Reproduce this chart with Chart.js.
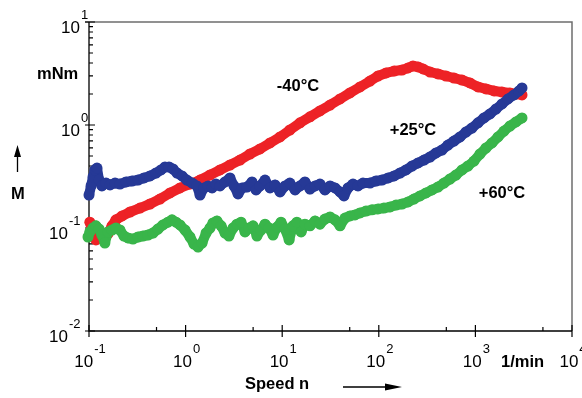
<!DOCTYPE html>
<html>
<head>
<meta charset="utf-8">
<script src="https://cdn.jsdelivr.net/npm/chart.js@4"></script>
<style>
  html, body { margin: 0; padding: 0; background: #fff; }
  canvas { display: block; }
</style>
</head>
<body>
<canvas id="torqueChart" width="582" height="398"></canvas>
<script>
// speed n in 1/min, torque M in mNm
const speedCold = [0.102, 0.110, 0.118, 0.130, 0.143, 0.157, 0.173, 0.190, 0.220, 0.266, 0.337, 0.428, 0.543, 0.690, 0.875, 1.11, 1.41, 1.79, 2.27, 2.88, 3.66, 4.64, 5.89, 7.48, 9.49, 12.0, 15.3, 19.4, 24.6, 31.3, 39.7, 50.3, 63.9, 81.1, 98.1, 119, 144, 174, 201, 226, 255, 287, 339, 410, 496, 600, 727, 879, 1064, 1287, 1558, 1886, 2282, 2632, 3037];
const torqueCold = [0.114, 0.0875, 0.0765, 0.0836, 0.0782, 0.0875, 0.105, 0.120, 0.131, 0.143, 0.156, 0.171, 0.191, 0.219, 0.245, 0.267, 0.292, 0.327, 0.366, 0.409, 0.457, 0.523, 0.585, 0.669, 0.765, 0.894, 1.05, 1.20, 1.37, 1.56, 1.79, 2.05, 2.34, 2.67, 2.99, 3.20, 3.34, 3.42, 3.58, 3.74, 3.66, 3.50, 3.27, 3.13, 2.99, 2.86, 2.73, 2.56, 2.34, 2.24, 2.14, 2.09, 2.05, 2.00, 1.96];

const speedRoom = [0.100, 0.105, 0.110, 0.115, 0.121, 0.127, 0.136, 0.150, 0.165, 0.186, 0.209, 0.242, 0.279, 0.322, 0.371, 0.428, 0.494, 0.556, 0.612, 0.673, 0.741, 0.815, 0.918, 1.03, 1.17, 1.31, 1.41, 1.55, 1.71, 1.88, 2.06, 2.27, 2.56, 2.88, 3.17, 3.49, 3.84, 4.32, 4.87, 5.36, 5.89, 6.64, 7.48, 8.42, 9.49, 10.7, 12.0, 13.6, 15.3, 17.2, 19.4, 21.9, 24.6, 27.7, 31.3, 35.2, 39.7, 43.6, 48.0, 54.1, 60.9, 68.6, 81.1, 93.5, 108, 125, 144, 166, 191, 221, 255, 294, 339, 391, 451, 520, 600, 693, 799, 922, 1064, 1227, 1416, 1634, 1886, 2175, 2509, 2828, 3037];
const torqueRoom = [0.209, 0.256, 0.313, 0.366, 0.382, 0.292, 0.256, 0.273, 0.262, 0.273, 0.267, 0.280, 0.286, 0.292, 0.306, 0.320, 0.342, 0.366, 0.391, 0.391, 0.374, 0.342, 0.320, 0.292, 0.273, 0.256, 0.209, 0.245, 0.256, 0.245, 0.267, 0.256, 0.280, 0.306, 0.256, 0.214, 0.245, 0.250, 0.280, 0.234, 0.256, 0.292, 0.245, 0.262, 0.224, 0.256, 0.273, 0.234, 0.256, 0.280, 0.239, 0.256, 0.267, 0.234, 0.256, 0.245, 0.224, 0.205, 0.245, 0.267, 0.256, 0.273, 0.273, 0.286, 0.292, 0.306, 0.320, 0.342, 0.366, 0.400, 0.428, 0.457, 0.489, 0.535, 0.572, 0.639, 0.699, 0.765, 0.855, 0.935, 1.05, 1.17, 1.28, 1.43, 1.60, 1.79, 1.96, 2.14, 2.29];

const speedHot = [0.0976, 0.102, 0.110, 0.118, 0.127, 0.136, 0.146, 0.157, 0.173, 0.190, 0.209, 0.230, 0.253, 0.285, 0.322, 0.362, 0.408, 0.460, 0.518, 0.583, 0.657, 0.723, 0.796, 0.875, 0.986, 1.11, 1.22, 1.345, 1.48, 1.63, 1.79, 1.92, 2.11, 2.33, 2.56, 2.81, 3.10, 3.40, 3.75, 4.12, 4.53, 4.99, 5.48, 6.03, 6.64, 7.30, 8.03, 8.84, 9.72, 10.7, 11.8, 12.9, 14.2, 15.7, 17.2, 19.4, 21.9, 24.6, 27.7, 31.3, 35.2, 39.7, 44.7, 50.3, 56.7, 63.9, 73.7, 85.0, 98.1, 113, 131, 151, 174, 201, 231, 267, 308, 355, 410, 473, 546, 630, 727, 838, 967, 1116, 1287, 1485, 1714, 1978, 2282, 2632, 3037];
const torqueHot = [0.0818, 0.0915, 0.100, 0.105, 0.0978, 0.0855, 0.0715, 0.0915, 0.0956, 0.100, 0.0956, 0.0836, 0.080, 0.0782, 0.0818, 0.0836, 0.0855, 0.0894, 0.0978, 0.107, 0.114, 0.120, 0.114, 0.107, 0.0956, 0.0818, 0.0699, 0.0654, 0.0715, 0.0894, 0.100, 0.112, 0.117, 0.105, 0.0894, 0.0836, 0.100, 0.109, 0.114, 0.0915, 0.100, 0.105, 0.0836, 0.0956, 0.109, 0.100, 0.0855, 0.102, 0.114, 0.0978, 0.0765, 0.105, 0.114, 0.0915, 0.109, 0.105, 0.117, 0.109, 0.122, 0.128, 0.120, 0.105, 0.125, 0.131, 0.134, 0.140, 0.146, 0.150, 0.153, 0.156, 0.160, 0.167, 0.171, 0.179, 0.191, 0.205, 0.219, 0.234, 0.250, 0.273, 0.299, 0.327, 0.366, 0.400, 0.447, 0.523, 0.598, 0.669, 0.765, 0.874, 0.978, 1.07, 1.17];

const seriesNames = ['-40°C', '+25°C', '+60°C'];
const speedDecades = [-1, 0, 1, 2, 3, 4];
const torqueDecades = [-2, -1, 0, 1];

const RED = 'rgb(237, 34, 38)';
const BLUE = 'rgb(38, 57, 150)';
const GREEN = 'rgb(57, 181, 74)';
const FONT = '"Liberation Sans", Arial, sans-serif';

function toPoints(xs, ys) {
  return xs.map((x, i) => ({ x: x, y: ys[i] }));
}

function series(label, xs, ys, color, order) {
  return {
    label: label,
    data: toPoints(xs, ys),
    showLine: true,
    borderColor: color,
    backgroundColor: color,
    borderWidth: 10,
    borderCapStyle: 'round',
    borderJoinStyle: 'round',
    pointRadius: 5.5,
    pointBorderWidth: 0,
    pointHoverRadius: 5.5,
    clip: false,
    order: order
  };
}

// 10 with a raised exponent
function powerLabel(ctx, exp, x, y, align) {
  const base = '10';
  const sup = String(exp);
  ctx.font = '17px ' + FONT;
  const wBase = ctx.measureText(base).width;
  ctx.font = '13px ' + FONT;
  const wSup = ctx.measureText(sup).width;
  let left = x;
  if (align === 'center') left = x - (wBase + wSup + 1) / 2;
  ctx.textAlign = 'left';
  ctx.textBaseline = 'alphabetic';
  ctx.font = '17px ' + FONT;
  ctx.fillText(base, left, y);
  ctx.font = '13px ' + FONT;
  ctx.fillText(sup, left + wBase + 1, y - 14);
}

const frame = {
  id: 'frame',
  beforeDatasetsDraw(chart) {
    const ctx = chart.ctx;
    const a = chart.chartArea;
    const xs = chart.scales.x;
    const ys = chart.scales.y;
    ctx.save();
    // grey box top and right
    ctx.strokeStyle = '#6d6d6d';
    ctx.lineWidth = 1.5;
    ctx.beginPath();
    ctx.moveTo(a.left - 4, a.top);
    ctx.lineTo(a.right, a.top);
    ctx.lineTo(a.right, a.bottom);
    ctx.stroke();

    ctx.strokeStyle = '#000';
    ctx.lineWidth = 1.3;
    ctx.beginPath();
    ctx.moveTo(a.left, a.top);
    ctx.lineTo(a.left, a.bottom);
    ctx.lineTo(a.right, a.bottom);
    ctx.stroke();

    ctx.lineWidth = 1.2;
    ctx.beginPath();
    torqueDecades.forEach(d => {
      const py = ys.getPixelForValue(Math.pow(10, d));
      ctx.moveTo(a.left - 4, py);
      ctx.lineTo(a.left + 6, py);
      if (d < torqueDecades[torqueDecades.length - 1]) {
        for (let k = 2; k <= 9; k++) {
          const my = ys.getPixelForValue(k * Math.pow(10, d));
          ctx.moveTo(a.left, my);
          ctx.lineTo(a.left + 4, my);
        }
      }
    });
    speedDecades.forEach(d => {
      const px = xs.getPixelForValue(Math.pow(10, d));
      ctx.moveTo(px, a.bottom - 6);
      ctx.lineTo(px, a.bottom + 6);
      if (d < speedDecades[speedDecades.length - 1]) {
        const mx = xs.getPixelForValue(5 * Math.pow(10, d));
        ctx.moveTo(mx, a.bottom - 4);
        ctx.lineTo(mx, a.bottom);
      }
    });
    ctx.stroke();
    ctx.restore();
  },
  afterDraw(chart) {
    const ctx = chart.ctx;
    const a = chart.chartArea;
    const xs = chart.scales.x;
    const ys = chart.scales.y;
    ctx.save();
    ctx.fillStyle = '#000';

    torqueDecades.forEach(d => {
      const py = ys.getPixelForValue(Math.pow(10, d));
      ctx.font = '17px ' + FONT;
      const w = ctx.measureText('10').width;
      const right = d < 0 ? 68 : 80;
      powerLabel(ctx, d, right - w, py + 11, 'left');
    });
    speedDecades.forEach(d => {
      const px = xs.getPixelForValue(Math.pow(10, d));
      powerLabel(ctx, d, px + 1, a.bottom + 36, 'center');
    });

    // axis titles
    ctx.font = 'bold 16.5px ' + FONT;
    ctx.textBaseline = 'middle';
    ctx.textAlign = 'left';
    ctx.fillText('mNm', 37, 74);
    ctx.fillText('M', 11, 194);
    ctx.fillText('1/min', 501, 362);
    ctx.fillText('Speed n', 245, 384);

    // series names
    ctx.textAlign = 'center';
    ctx.fillText(seriesNames[0], 298, 86);
    ctx.fillText(seriesNames[1], 413, 130);
    ctx.fillText(seriesNames[2], 502, 193);

    // arrows
    ctx.strokeStyle = '#000';
    ctx.lineWidth = 1.3;
    ctx.beginPath();
    ctx.moveTo(343, 387);
    ctx.lineTo(390, 387);
    ctx.moveTo(17.5, 172);
    ctx.lineTo(17.5, 152);
    ctx.stroke();
    ctx.beginPath();
    ctx.moveTo(402, 387);
    ctx.lineTo(385, 383.5);
    ctx.lineTo(385, 390.5);
    ctx.closePath();
    ctx.moveTo(17.5, 145);
    ctx.lineTo(14, 157);
    ctx.lineTo(21, 157);
    ctx.closePath();
    ctx.fill();
    ctx.restore();
  }
};

const chart = new Chart(document.getElementById('torqueChart'), {
  type: 'scatter',
  data: {
    datasets: [
      series(seriesNames[0], speedCold, torqueCold, RED, 3),
      series(seriesNames[1], speedRoom, torqueRoom, BLUE, 2),
      series(seriesNames[2], speedHot, torqueHot, GREEN, 1)
    ]
  },
  options: {
    responsive: false,
    animation: false,
    devicePixelRatio: 1,
    layout: { padding: { left: 89, right: 10, top: 22, bottom: 67 } },
    plugins: { legend: { display: false }, tooltip: { enabled: false } },
    scales: {
      x: { type: 'logarithmic', min: 0.1, max: 10000, display: false },
      y: { type: 'logarithmic', min: 0.01, max: 10, display: false }
    }
  },
  plugins: [frame]
});
</script>
</body>
</html>
